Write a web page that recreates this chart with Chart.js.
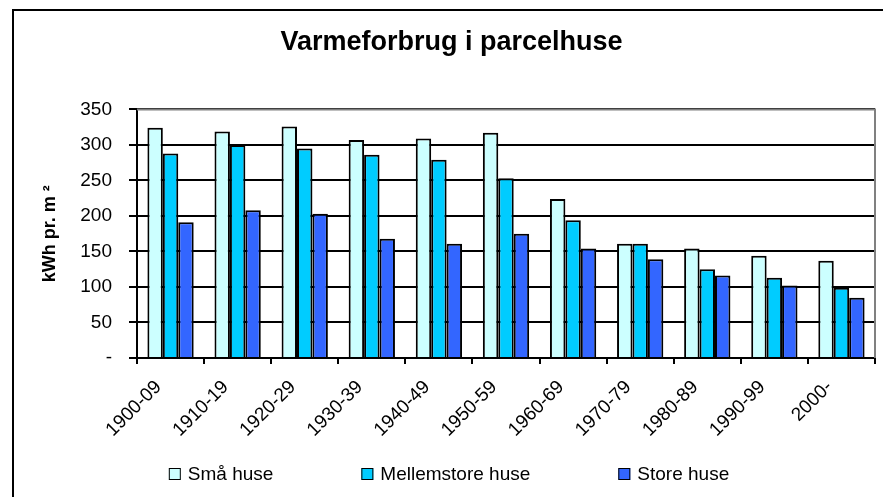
<!DOCTYPE html>
<html>
<head>
<meta charset="utf-8">
<script src="https://cdn.jsdelivr.net/npm/chart.js@4.4.0/dist/chart.umd.min.js"></script>
<style>
  html, body { margin: 0; padding: 0; background: #fff; }
  #wrap { width: 883px; height: 497px; }
</style>
</head>
<body>
<div id="wrap"><canvas id="chart" width="883" height="497"></canvas></div>
<script>
const categories = ['1900-09', '1910-19', '1920-29', '1930-39', '1940-49', '1950-59', '1960-69', '1970-79', '1980-89', '1990-99', '2000-'];
const smaHuse = [324, 319, 326, 307, 309, 317, 224, 161, 154, 144, 137];
const mellemstoreHuse = [288, 300, 295, 286, 279, 253, 194, 161, 125, 113, 99];
const storeHuse = [191, 208, 203, 168, 161, 175, 154, 139, 116, 102, 85];
const seriesNames = ['Små huse', 'Mellemstore huse', 'Store huse'];
const seriesColors = ['#CCFFFF', '#00CCFF', '#3366FF'];
const yTickLabels = ['-', '50', '100', '150', '200', '250', '300', '350'];

const FONT = '"Liberation Sans", Arial, sans-serif';

// frame, grey plot border and the legend are drawn by hand
const decor = {
  id: 'decor',
  beforeDraw(chart) {
    const ctx = chart.ctx;
    ctx.save();
    ctx.fillStyle = '#fff';
    ctx.fillRect(0, 0, chart.width, chart.height);
    ctx.strokeStyle = '#000';
    ctx.lineWidth = 2;
    ctx.beginPath();
    ctx.moveTo(13, chart.height);
    ctx.lineTo(13, 10);
    ctx.lineTo(chart.width, 10);
    ctx.stroke();
    ctx.restore();
  },
  afterDraw(chart) {
    const ctx = chart.ctx;
    const a = chart.chartArea;
    ctx.save();
    ctx.strokeStyle = '#808080';
    ctx.lineWidth = 2;
    ctx.beginPath();
    ctx.moveTo(a.left, a.top);
    ctx.lineTo(a.right, a.top);
    ctx.lineTo(a.right, a.bottom);
    ctx.stroke();

    ctx.font = '19px ' + FONT;
    ctx.textBaseline = 'middle';
    ctx.fillStyle = '#000';
    const box = 12, gapText = 7, gapItem = 88;
    const widths = seriesNames.map(n => ctx.measureText(n).width);
    const total = widths.reduce((s, w) => s + box + gapText + w, 0) + gapItem * (seriesNames.length - 1);
    let x = 449 - total / 2;
    const y = 474;
    seriesNames.forEach((name, i) => {
      ctx.fillStyle = seriesColors[i];
      ctx.fillRect(x, y - 6, box, box);
      ctx.strokeStyle = '#000';
      ctx.lineWidth = 1;
      ctx.strokeRect(x + 0.5, y - 5.5, box - 1, box - 1);
      ctx.fillStyle = '#000';
      ctx.fillText(name, x + box + gapText, y + 1);
      x += box + gapText + widths[i] + gapItem;
    });
    ctx.restore();
  }
};

new Chart(document.getElementById('chart'), {
  type: 'bar',
  data: {
    labels: categories,
    datasets: [
      { label: seriesNames[0], data: smaHuse, backgroundColor: seriesColors[0] },
      { label: seriesNames[1], data: mellemstoreHuse, backgroundColor: seriesColors[1] },
      { label: seriesNames[2], data: storeHuse, backgroundColor: seriesColors[2] }
    ].map(d => Object.assign(d, { borderColor: '#000', borderWidth: 2 }))
  },
  options: {
    responsive: false,
    animation: false,
    events: [],
    layout: { padding: { top: 10, left: 28, right: 8, bottom: 59 } },
    datasets: { bar: { categoryPercentage: 0.69, barPercentage: 1 } },
    plugins: {
      legend: { display: false },
      tooltip: { enabled: false },
      title: {
        display: true,
        text: 'Varmeforbrug i parcelhuse',
        color: '#000',
        font: { family: FONT, size: 27, weight: 'bold' },
        padding: { top: 16, bottom: 51 }
      }
    },
    scales: {
      x: {
        afterFit(scale) { scale.height = 80; },
        grid: { display: true, drawOnChartArea: false, drawTicks: true, tickLength: 6, color: '#000', lineWidth: 2, offset: true },
        border: { display: true, color: '#000', width: 2 },
        ticks: {
          color: '#000',
          font: { family: FONT, size: 19 },
          minRotation: 45,
          maxRotation: 45,
          padding: 12,
          labelOffset: -12,
          autoSkip: false
        }
      },
      y: {
        min: 0,
        max: 350,
        afterFit(scale) { scale.width = 109; },
        grid: { color: '#000', lineWidth: 2, tickLength: 8 },
        border: { display: true, color: '#000', width: 2 },
        ticks: {
          stepSize: 50,
          color: '#000',
          padding: 17,
          font: { family: FONT, size: 19 },
          callback: (v) => yTickLabels[v / 50]
        },
        title: {
          display: true,
          text: 'kWh pr. m ²',
          color: '#000',
          font: { family: FONT, size: 18, weight: 'bold' },
          padding: { top: 11, bottom: 0 }
        }
      }
    }
  },
  plugins: [decor]
});
</script>
</body>
</html>
